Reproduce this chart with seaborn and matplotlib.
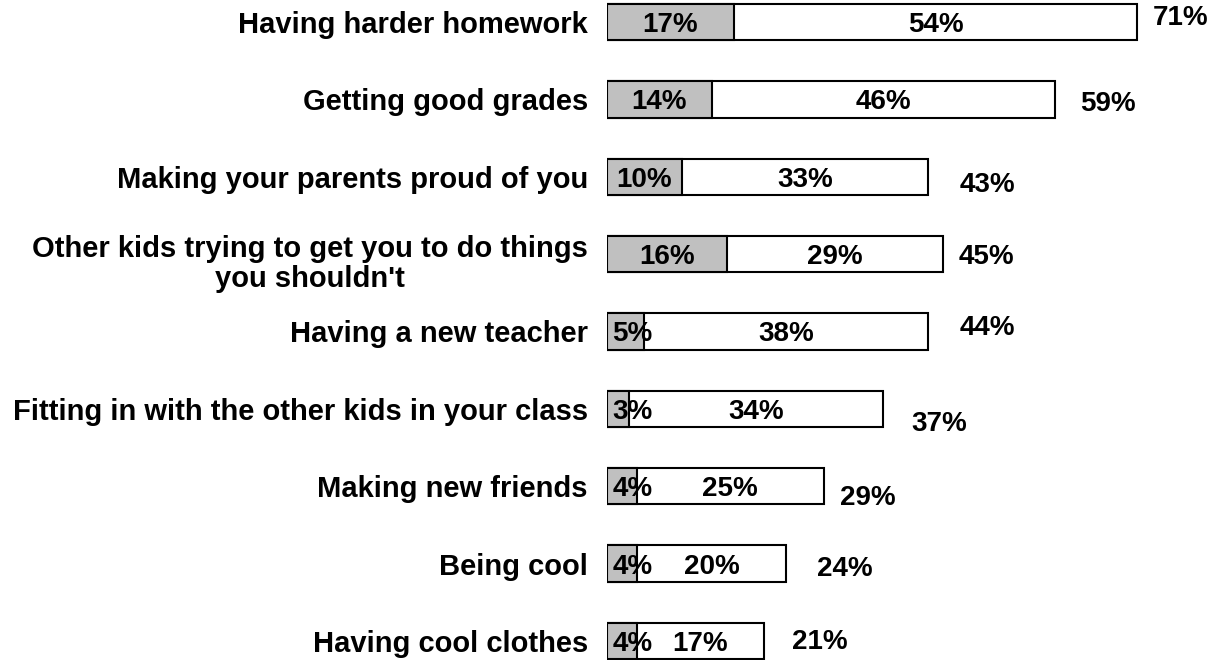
import matplotlib
matplotlib.use('Agg')
import matplotlib.pyplot as plt
import matplotlib.transforms as mtransforms
import seaborn as sns
import pandas as pd

# dados
categorias = ['Having harder homework',
              'Getting good grades',
              'Making your parents proud of you',
              "Other kids trying to get you to do things\nyou shouldn't",
              'Having a new teacher',
              'Fitting in with the other kids in your class',
              'Making new friends',
              'Being cool',
              'Having cool clothes']
cinza = [17, 14, 10, 16, 5, 3, 4, 4, 4]
branco = [54, 46, 33, 29, 38, 34, 25, 20, 17]
total_rotulo = [71, 59, 43, 45, 44, 37, 29, 24, 21]

# ajustes finos dos rotulos de total (dx em %, dy em linhas)
rot_dx = [5.8, 7.0, 7.9, 5.8, 7.9, 7.5, 5.9, 7.8, 7.5]
rot_dy = [-0.09, 0.02, 0.07, 0.0, -0.09, 0.16, 0.11, 0.03, -0.03]

df = pd.DataFrame({'cat': categorias, 'cinza': cinza, 'branco': branco})
df['soma'] = df['cinza'] + df['branco']

sns.set_style('white')
plt.rcParams['font.family'] = ['Liberation Sans', 'DejaVu Sans']
plt.rcParams['text.color'] = 'black'
plt.rcParams['ytick.color'] = 'black'
plt.rcParams['ytick.labelcolor'] = 'black'

fig = plt.figure(figsize=(12.14, 6.6), dpi=100)
ax = fig.add_axes([607 / 1214, 0, 607 / 1214, 1])

sns.barplot(data=df, x='soma', y='cat', orient='h', color='white', saturation=1,
            edgecolor='black', linewidth=1.5, width=0.47, ax=ax)
sns.barplot(data=df, x='cinza', y='cat', orient='h', color='#c0c0c0', saturation=1,
            edgecolor='black', linewidth=1.5, width=0.47, ax=ax)

fs = 20
for i in range(len(df)):
    g = df['cinza'][i]
    b = df['branco'][i]
    ax.text(max(g / 2, 3.4), i, f'{g}%', ha='center', va='center_baseline',
            fontsize=fs, fontweight='bold', color='black')
    ax.text(g + b / 2, i, f'{b}%', ha='center', va='center_baseline',
            fontsize=fs, fontweight='bold', color='black')
    ax.text(g + b + rot_dx[i], i + rot_dy[i], f'{total_rotulo[i]}%', ha='center',
            va='center_baseline', fontsize=fs, fontweight='bold', color='black')

ax.set_xlim(0, 607 / 7.47)
ax.set_ylim(8.246, -0.284)
ax.set_xlabel('')
ax.set_ylabel('')
ax.xaxis.set_visible(False)
ax.tick_params(axis='y', length=0, pad=13.7)
for lbl in ax.get_yticklabels():
    lbl.set_fontsize(21)
    lbl.set_fontweight('bold')
    lbl.set_color('black')
    lbl.set_multialignment('center')
    lbl.set_linespacing(1.1)
    if '\n' in lbl.get_text():
        # rotulo de duas linhas fica um pouco abaixo da barra
        lbl.set_transform(lbl.get_transform() +
                          mtransforms.ScaledTranslation(0, -0.06, fig.dpi_scale_trans))
sns.despine(ax=ax, left=True, bottom=True)

plt.savefig('out.png', dpi=100)
